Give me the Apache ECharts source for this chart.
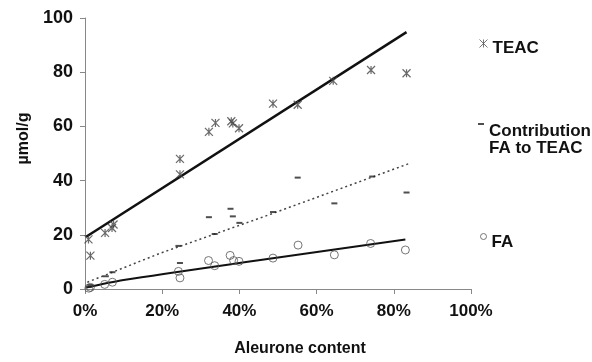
<!DOCTYPE html>
<html>
<head>
<meta charset="utf-8">
<script src="https://cdn.jsdelivr.net/npm/echarts@6/dist/echarts.min.js"></script>
<style>html,body{margin:0;padding:0;background:#fff;}#chart{width:592px;height:362px;}</style>
</head>
<body>
<div id="chart"></div>
<script>
// Aleurone content (%) and values (µmol/g)
var teacX = [0.9, 1.4, 5.2, 7.0, 7.4, 24.6, 24.6, 32.1, 33.8, 37.9, 38.3, 39.9, 48.7, 55.1, 64.3, 74.1, 83.3];
var teacY = [18.3, 12.3, 20.7, 22.5, 23.8, 48.0, 42.3, 58.0, 61.3, 61.9, 61.1, 59.3, 68.4, 68.0, 76.8, 80.8, 79.6];
var contX = [1.0, 1.4, 5.4, 7.1, 24.2, 24.6, 32.1, 33.6, 37.7, 38.3, 40.0, 48.7, 55.1, 64.6, 74.4, 83.3];
var contY = [0.8, 1.5, 4.7, 6.2, 15.9, 9.6, 26.5, 20.3, 29.6, 26.8, 24.4, 28.4, 41.1, 31.6, 41.5, 35.6];
var faX = [1.0, 1.4, 5.1, 7.1, 24.2, 24.6, 32.0, 33.6, 37.6, 38.5, 39.9, 48.7, 55.2, 64.6, 74.0, 83.0];
var faY = [0.3, 0.6, 1.7, 2.5, 6.5, 4.1, 10.5, 8.6, 12.4, 10.5, 10.2, 11.4, 16.2, 12.6, 16.8, 14.4];
// trend lines
var teacTrendX = [0.3, 83.3];
var teacTrendY = [19.3, 94.8];
var contTrendX = [0.6, 19.5, 45, 84];
var contTrendY = [2.5, 13.2, 26.0, 46.3];
var faTrendX = [0.3, 10, 45, 83];
var faTrendY = [0.5, 3.3, 10.6, 18.3];
// axis ticks
var yTicks = [0, 20, 40, 60, 80, 100];
var xTicks = [0, 20, 40, 60, 80, 100];

var names = ['TEAC', 'Contribution FA to TEAC', 'FA'];

function pairs(xs, ys) { return xs.map(function (x, i) { return [x, ys[i]]; }); }

var FONT = '"Liberation Sans", Arial, sans-serif';
var starPath = 'path://M0,0L8,8M8,0L0,8M4,0L4,8';
var starIcon = 'path://M0,0L8,8M8,0L0,8M4,0L4,8M4,18L4,18.01';
var dashIcon = 'path://M0,0L6,0L6,2L0,2ZM3,34L3.01,34';
var circIcon = 'path://M6,3A3,3,0,1,1,0,3A3,3,0,1,1,6,3ZM3,18L3.01,18';

var chart = echarts.init(document.getElementById('chart'), null, {renderer: 'canvas'});
var legendText = {fontFamily: FONT, fontWeight: 'bold', fontSize: 17, color: '#111', lineHeight: 17};
chart.setOption({
  animation: false,
  backgroundColor: '#fff',
  grid: {left: 85, right: 121, top: 18, bottom: 69, containLabel: false},
  legend: [
    {data: [{name: names[0], icon: starIcon}], left: 477, top: 37, padding: 0, itemWidth: 8, itemHeight: 18,
     textStyle: legendText, selectedMode: false,
     itemStyle: {color: 'none', borderColor: '#555', borderWidth: 1}},
    {data: [{name: names[1], icon: dashIcon}], left: 478, top: 123, padding: 0, itemWidth: 6, itemHeight: 34,
     textStyle: legendText, selectedMode: false,
     formatter: function () { return 'Contribution\nFA to TEAC'; },
     itemStyle: {color: '#222', borderWidth: 0}},
    {data: [{name: names[2], icon: circIcon}], left: 478, top: 231, padding: 0, itemWidth: 6, itemHeight: 18,
     textStyle: legendText, selectedMode: false,
     itemStyle: {color: 'none', borderColor: '#555', borderWidth: 1}}
  ],
  xAxis: {
    type: 'value', min: xTicks[0], max: xTicks[xTicks.length - 1], interval: 20,
    name: 'Aleurone content', nameLocation: 'middle', nameGap: 52,
    nameTextStyle: {fontFamily: FONT, fontWeight: 'bold', fontSize: 16, color: '#111', padding: [0, 0, 0, 44]},
    axisLine: {lineStyle: {color: '#888', width: 1}},
    axisTick: {show: true, length: 5, lineStyle: {color: '#888'}},
    axisLabel: {formatter: '{value}%', margin: 14, fontFamily: FONT, fontWeight: 'bold', fontSize: 17, color: '#111'},
    splitLine: {show: false}
  },
  yAxis: {
    type: 'value', min: yTicks[0], max: yTicks[yTicks.length - 1], interval: 20,
    name: 'µmol/g', nameLocation: 'middle', nameGap: 51, nameRotate: 90,
    nameTextStyle: {fontFamily: FONT, fontWeight: 'bold', fontSize: 16, color: '#111', padding: [0, 0, 0, 30]},
    axisLine: {show: true, lineStyle: {color: '#888', width: 1}},
    axisTick: {show: true, length: 5, lineStyle: {color: '#888'}},
    axisLabel: {margin: 12, fontFamily: FONT, fontWeight: 'bold', fontSize: 18, color: '#111'},
    splitLine: {show: false}
  },
  series: [
    {name: names[0], type: 'scatter', data: pairs(teacX, teacY), symbol: starPath, symbolSize: 8,
     itemStyle: {color: 'none', borderColor: '#444', borderWidth: 1.2}, z: 3},
    {name: names[1], type: 'scatter', data: pairs(contX, contY), symbol: 'rect', symbolSize: [6, 2],
     itemStyle: {color: '#222'}, z: 3},
    {name: names[2], type: 'scatter', data: pairs(faX, faY), symbol: 'circle', symbolSize: 8,
     itemStyle: {color: 'none', borderColor: '#555', borderWidth: 1}, z: 3},
    {name: 'teacTrend', type: 'line', data: pairs(teacTrendX, teacTrendY), showSymbol: false, symbol: 'none',
     lineStyle: {color: '#111', width: 2.5}, z: 2},
    {name: 'contTrend', type: 'line', data: pairs(contTrendX, contTrendY), showSymbol: false, symbol: 'none',
     lineStyle: {color: '#444', width: 1.5, type: [2, 3]}, z: 2},
    {name: 'faTrend', type: 'line', data: pairs(faTrendX, faTrendY), showSymbol: false, symbol: 'none', smooth: 0.3,
     lineStyle: {color: '#111', width: 2}, z: 2}
  ]
});
</script>
</body>
</html>
